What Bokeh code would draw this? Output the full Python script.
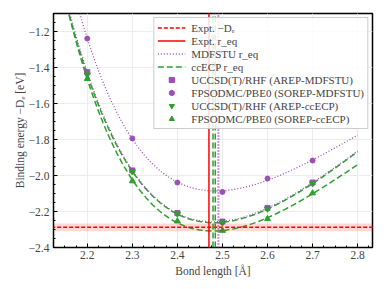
import numpy as np
from bokeh.plotting import figure
from bokeh.models import Range1d, Legend, LegendItem, FixedTicker, BoxAnnotation
from bokeh.embed import file_html
from bokeh.resources import INLINE

# ---- data ----
bond = [2.2, 2.3, 2.4, 2.5, 2.6, 2.7]
ucc_mdf = [-1.426, -1.972, -2.209, -2.256, -2.180, -2.039]
dmc_mdf = [-1.239, -1.794, -2.039, -2.091, -2.017, -1.917]
ucc_cc = [-1.440, -1.978, -2.213, -2.262, -2.185, -2.045]
dmc_cc = [-1.463, -2.031, -2.254, -2.306, -2.241, -2.098]
expt_De = -2.288
expt_De_err = 0.022
expt_req = 2.47
mdf_req = [2.490, 2.492]
cc_req = [2.479, 2.484]
xticks = [2.2, 2.3, 2.4, 2.5, 2.6, 2.7, 2.8]
yticks = [-2.4, -2.2, -2.0, -1.8, -1.6, -1.4, -1.2]
ylabels = ["\u22122.4", "\u22122.2", "\u22122.0", "\u22121.8", "\u22121.6", "\u22121.4", "\u22121.2"]

PURPLE = "#9b4fb5"
GREEN = "#2ca02c"
RED = "#ff0000"
FONT = "Liberation Serif"

p = figure(frame_width=319, frame_height=234, output_backend="svg", toolbar_location=None,
           x_range=Range1d(2.125, 2.833), y_range=Range1d(-2.4, -1.1),
           min_border_left=53, min_border_right=4, min_border_top=13, min_border_bottom=34)
p.outline_line_color = "black"
p.outline_line_width = 1.5
p.xgrid.grid_line_color = "#ececec"
p.ygrid.grid_line_color = "#ececec"
p.xaxis.ticker = FixedTicker(ticks=xticks, minor_ticks=list(np.round(np.arange(2.125, 2.84, 0.025), 3)))
p.yaxis.ticker = FixedTicker(ticks=yticks, minor_ticks=list(np.round(np.arange(-2.4, -1.09, 0.05), 3)))
p.yaxis.major_label_overrides = {v: l for v, l in zip(yticks, ylabels)}
p.xaxis.axis_label = "Bond length [Å]"
p.yaxis.axis_label = "Binding energy \u2212D\u2091 [eV]"
for ax in (p.xaxis[0], p.yaxis[0]):
    ax.axis_label_text_font = FONT
    ax.axis_label_text_font_style = "normal"
    ax.axis_label_text_font_size = "11.5px"
    ax.major_label_text_font = FONT
    ax.major_label_text_font_size = "11.5px"
    ax.axis_line_color = None
    ax.major_tick_in = 4
    ax.major_tick_out = 0
    ax.minor_tick_in = 2
    ax.minor_tick_out = 0
p.xaxis.major_label_standoff = 3
p.xaxis.axis_label_standoff = 3
p.yaxis.major_label_standoff = 4
p.yaxis.axis_label_standoff = 0

# experimental band
p.add_layout(BoxAnnotation(bottom=expt_De - expt_De_err, top=expt_De + expt_De_err,
                           fill_color=RED, fill_alpha=0.15, line_color=None))

# Morse-type fits: E = c0 + c1*u + c2*u^2, u = exp(-a r), best a by grid search
xf = np.linspace(2.15, 2.8, 200)
def fit(y):
    r = np.array(bond)
    y = np.array(y)
    best = None
    for a in np.linspace(0.3, 4.0, 371):
        u = np.exp(-a * r)
        A = np.vstack([np.ones_like(u), u, u * u]).T
        c, *_ = np.linalg.lstsq(A, y, rcond=None)
        res = np.sum((A @ c - y) ** 2)
        if best is None or res < best[0]:
            best = (res, a, c)
    _, a, c = best
    uf = np.exp(-a * xf)
    return c[0] + c[1] * uf + c[2] * uf * uf

p.line(xf, fit(ucc_cc), color=GREEN, line_width=1.5, line_dash="6 3")
p.line(xf, fit(dmc_cc), color=GREEN, line_width=1.5, line_dash="6 3")
p.line(xf, fit(ucc_mdf), color=PURPLE, line_width=1.3, line_dash="1 2")
p.line(xf, fit(dmc_mdf), color=PURPLE, line_width=1.3, line_dash="1 2")

# reference lines
r_De = p.line([2.0, 3.0], [expt_De, expt_De], color=RED, line_width=1.5, line_dash="4 2")
r_req = p.line([expt_req, expt_req], [-3, 0], color=RED, line_width=1.5)
r_mdf = None
for v in mdf_req:
    r_mdf = p.line([v, v], [-3, 0], color=PURPLE, line_width=1.3, line_dash="1 2")
r_cc = None
for v in cc_req:
    r_cc = p.line([v, v], [-3, 0], color=GREEN, line_width=1.5, line_dash="6 3")

# markers
m1 = p.scatter(bond, ucc_mdf, marker="square", size=5, color=PURPLE)
m2 = p.scatter(bond, dmc_mdf, marker="circle", size=5, color=PURPLE)
m3 = p.scatter(bond, ucc_cc, marker="inverted_triangle", size=6, color=GREEN)
m4 = p.scatter(bond, dmc_cc, marker="triangle", size=6, color=GREEN)

items = [
    LegendItem(label="Expt. \u2212D\u2091", renderers=[r_De]),
    LegendItem(label="Expt. r_eq", renderers=[r_req]),
    LegendItem(label="MDFSTU r_eq", renderers=[r_mdf]),
    LegendItem(label="ccECP r_eq", renderers=[r_cc]),
    LegendItem(label="UCCSD(T)/RHF (AREP-MDFSTU)", renderers=[m1]),
    LegendItem(label="FPSODMC/PBE0 (SOREP-MDFSTU)", renderers=[m2]),
    LegendItem(label="UCCSD(T)/RHF (AREP-ccECP)", renderers=[m3]),
    LegendItem(label="FPSODMC/PBE0 (SOREP-ccECP)", renderers=[m4]),
]
leg = Legend(items=items, location="top_right", margin=4, padding=3, spacing=0,
             label_text_font=FONT, label_text_font_size="11px", label_height=13,
             glyph_height=13, glyph_width=28, label_standoff=6,
             border_line_color="#cccccc", border_line_alpha=1.0,
             background_fill_alpha=0.85)
p.add_layout(leg, "center")

open("out.html", "w").write(file_html(p, INLINE))
